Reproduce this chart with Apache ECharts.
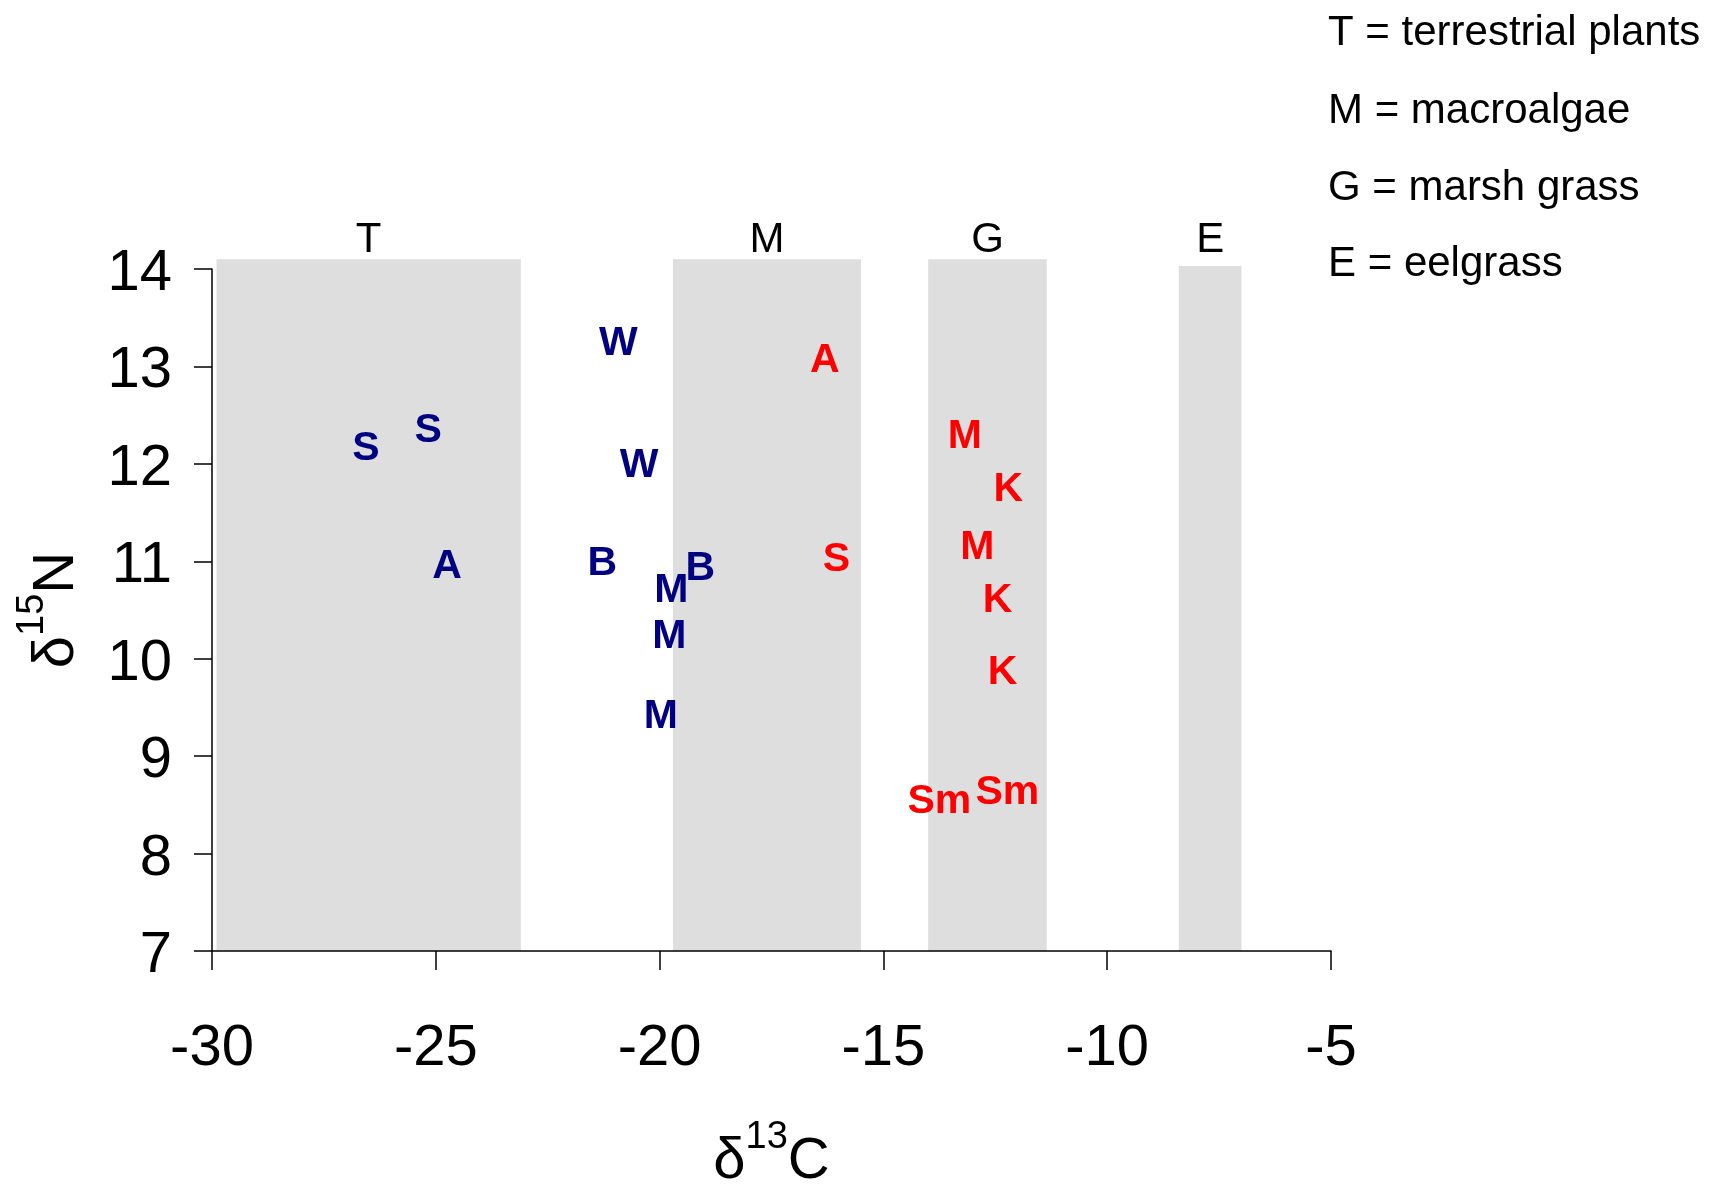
<!DOCTYPE html>
<html>
<head>
<meta charset="utf-8">
<script src="https://cdn.jsdelivr.net/npm/echarts@6/dist/echarts.min.js"></script>
<style>
html,body{margin:0;padding:0;background:#fff;}
#chart{width:1713px;height:1187px;}
</style>
</head>
<body>
<div id="chart"></div>
<script>
// Data
const xTicks = [-30, -25, -20, -15, -10, -5];
const yTicks = [7, 8, 9, 10, 11, 12, 13, 14];

const blueLabels = ['S', 'S', 'A', 'W', 'W', 'B', 'B', 'M', 'M', 'M'];
const blueC = [-26.56, -25.17, -24.75, -20.92, -20.46, -21.28, -19.09, -19.74, -19.78, -19.97];
const blueN = [12.20, 12.38, 10.99, 13.27, 12.02, 11.02, 10.96, 10.74, 10.27, 9.45];

const redLabels = ['A', 'S', 'M', 'K', 'M', 'K', 'K', 'Sm', 'Sm'];
const redC = [-16.31, -16.05, -13.18, -12.21, -12.90, -12.45, -12.34, -13.75, -12.23];
const redN = [13.10, 11.06, 12.32, 11.78, 11.18, 10.64, 9.90, 8.57, 8.67];

const bandNames = ['T', 'M', 'G', 'E'];
const bandStart = [-29.9, -19.7, -14.0, -8.4];
const bandEnd = [-23.1, -15.5, -11.35, -7.0];
const bandTop = [14.1, 14.1, 14.1, 14.03];
const bandLabelY = 14.29;

const legendLines = ['T = terrestrial plants', 'M = macroalgae', 'G = marsh grass', 'E = eelgrass'];

const FONT = '"Liberation Sans", Arial, Helvetica, sans-serif';

const chart = echarts.init(document.getElementById('chart'));

function pts(xs, ys, labels) {
  return xs.map((x, i) => [x, ys[i], labels[i]]);
}

function letterSeries(data, color) {
  return {
    type: 'scatter',
    data: data,
    symbol: 'circle',
    symbolSize: 1,
    itemStyle: { color: 'rgba(0,0,0,0)', opacity: 1 },
    silent: true,
    z: 5,
    clip: false,
    label: {
      show: true,
      position: 'inside',
      offset: [0, 4],
      formatter: p => p.value[2],
      color: color,
      opacity: 1,
      fontSize: 41,
      fontWeight: 'bold',
      fontFamily: FONT
    },
    emphasis: { disabled: true }
  };
}

const bandLabelData = bandNames.map((n, i) => [(bandStart[i] + bandEnd[i]) / 2, bandLabelY, n]);
const bandRectData = bandNames.map((n, i) => [bandStart[i], bandEnd[i], yTicks[0], bandTop[i]]);

const nameRich = {
  d: { fontSize: 58, lineHeight: 72, verticalAlign: 'bottom', fontFamily: FONT, color: '#000' },
  s: { fontSize: 38, lineHeight: 10, verticalAlign: 'top', fontFamily: FONT, color: '#000' },
  n: { fontSize: 58, lineHeight: 72, verticalAlign: 'bottom', fontFamily: FONT, color: '#000' }
};

const option = {
  backgroundColor: '#fff',
  animation: false,
  grid: { left: 212, right: 382, top: 269, bottom: 236, containLabel: false, outerBoundsMode: 'none' },
  xAxis: {
    type: 'value',
    min: xTicks[0],
    max: xTicks[xTicks.length - 1],
    interval: 5,
    axisLine: { onZero: false, lineStyle: { color: '#000', width: 1.5 } },
    axisTick: { length: 19, lineStyle: { color: '#000', width: 1.5 } },
    axisLabel: { fontSize: 58, color: '#000', margin: 69, fontFamily: FONT },
    splitLine: { show: false },
    name: '{d|δ}{s|13}{n|C}',
    nameLocation: 'middle',
    nameGap: 168,
    nameTextStyle: { rich: nameRich }
  },
  yAxis: {
    type: 'value',
    min: yTicks[0],
    max: yTicks[yTicks.length - 1],
    interval: 1,
    axisLine: { show: true, onZero: false, lineStyle: { color: '#000', width: 1.5 } },
    axisTick: { show: true, length: 18, lineStyle: { color: '#000', width: 1.5 } },
    axisLabel: { fontSize: 58, color: '#000', margin: 40, fontFamily: FONT, verticalAlign: 'top', lineHeight: 10 },
    splitLine: { show: false },
    name: '{d|δ}{s|15}{n|N}',
    nameLocation: 'middle',
    nameRotate: 90,
    nameGap: 126,
    nameTextStyle: { rich: nameRich }
  },
  graphic: legendLines.map((t, i) => ({
    type: 'text',
    left: 1328,
    top: [12, 90, 167, 243][i],
    style: { text: t, fontSize: 42, fontFamily: FONT, fill: '#000' },
    silent: true
  })),
  series: [
    {
      type: 'custom',
      data: bandRectData,
      encode: { x: [0, 1], y: [2, 3] },
      clip: false,
      silent: true,
      z: 0,
      renderItem: function (params, api) {
        const p0 = api.coord([api.value(0), api.value(3)]);
        const p1 = api.coord([api.value(1), api.value(2)]);
        return {
          type: 'rect',
          shape: { x: p0[0], y: p0[1], width: p1[0] - p0[0], height: p1[1] - p0[1] },
          style: { fill: '#dedede' }
        };
      }
    },
    {
      type: 'scatter',
      data: bandLabelData,
      symbol: 'circle',
      symbolSize: 1,
      itemStyle: { color: 'rgba(0,0,0,0)', opacity: 1 },
      silent: true,
      clip: false,
      z: 1,
      label: {
        show: true,
        position: 'inside',
        formatter: p => p.value[2],
        color: '#000',
        opacity: 1,
        fontSize: 42,
        fontFamily: FONT
      },
      emphasis: { disabled: true }
    },
    letterSeries(pts(blueC, blueN, blueLabels), '#000080'),
    letterSeries(pts(redC, redN, redLabels), '#ff0000')
  ]
};

chart.setOption(option);
</script>
</body>
</html>
